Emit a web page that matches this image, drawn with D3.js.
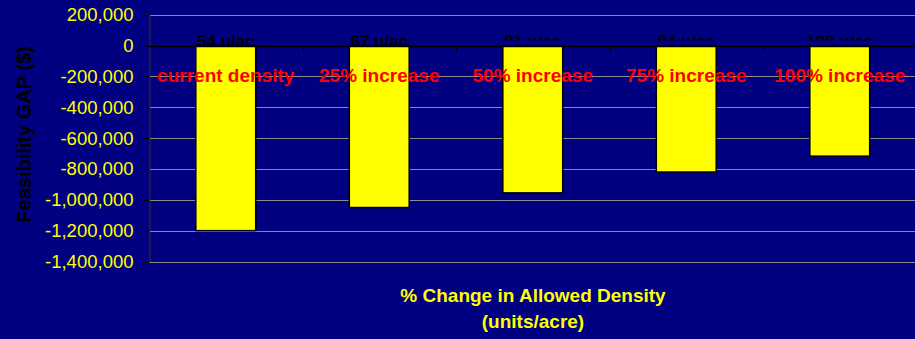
<!DOCTYPE html>
<html>
<head>
<meta charset="utf-8">
<script src="https://cdn.jsdelivr.net/npm/d3@7"></script>
<style>
  html, body { margin: 0; padding: 0; background: #000080; }
  svg { display: block; font-family: "Liberation Sans", Arial, sans-serif; }
</style>
</head>
<body>
<div id="chart"></div>
<script>
// chart data
var densities = ["54 u/ac", "67 u/ac", "81 u/ac", "94 u/ac", "108 u/ac"];
var changes = ["current density", "25% increase", "50% increase", "75% increase", "100% increase"];
var gaps = [-1200000, -1050000, -955000, -820000, -717000];
var yTicks = [200000, 0, -200000, -400000, -600000, -800000, -1000000, -1200000, -1400000];

var width = 915, height = 339;
var margin = { top: 14.7, right: -1.5, bottom: 77.5, left: 149 };

var svg = d3.select("#chart").append("svg")
    .attr("width", width)
    .attr("height", height);

svg.append("rect")
    .attr("width", width)
    .attr("height", height)
    .attr("fill", "#000080");

var x = d3.scaleBand()
    .domain(d3.range(densities.length))
    .range([margin.left, width - margin.right])
    .padding(0);

var y = d3.scaleLinear()
    .domain([-1400000, 200000])
    .range([height - margin.bottom, margin.top]);

var fmt = d3.formatLocale({ decimal: ".", thousands: ",", grouping: [3], currency: ["$", ""], minus: "-" }).format(",");

var barW = x.bandwidth() * 0.39;

// gridlines
svg.append("g")
    .selectAll("line")
    .data(yTicks.filter(d => d !== 0))
    .join("line")
    .attr("x1", margin.left)
    .attr("x2", width)
    .attr("y1", d => Math.round(y(d)) + 0.5)
    .attr("y2", d => Math.round(y(d)) + 0.5)
    .attr("stroke", "#8c8c8c")
    .attr("stroke-width", 1);

// y axis
var yAxis = svg.append("g")
    .attr("transform", "translate(" + (margin.left + 0.5) + ",0)")
    .call(d3.axisLeft(y).tickValues(yTicks).tickFormat(fmt).tickSize(6).tickPadding(10));
yAxis.select(".domain").attr("stroke", "#333");
yAxis.selectAll(".tick line").attr("stroke", "#000");
yAxis.selectAll(".tick text")
    .attr("fill", "#ffff00")
    .style("font-size", "18.5px")
    .style("font-family", "'Liberation Sans', Arial, sans-serif");

// bars
svg.append("g")
    .selectAll("rect")
    .data(gaps)
    .join("rect")
    .attr("x", (d, i) => x(i) + x.bandwidth() / 2 - barW / 2)
    .attr("y", y(0))
    .attr("width", barW)
    .attr("height", d => y(d) - y(0))
    .attr("fill", "#ffff00")
    .attr("stroke", "#000")
    .attr("stroke-width", 1.5);

// zero line and category ticks
svg.append("line")
    .attr("x1", margin.left)
    .attr("x2", width)
    .attr("y1", Math.round(y(0)) + 0.5)
    .attr("y2", Math.round(y(0)) + 0.5)
    .attr("stroke", "#000")
    .attr("stroke-width", 1.5);

svg.append("g")
    .selectAll("line")
    .data(d3.range(1, densities.length))
    .join("line")
    .attr("x1", i => Math.round(x(i)) + 0.5)
    .attr("x2", i => Math.round(x(i)) + 0.5)
    .attr("y1", y(0))
    .attr("y2", y(0) + 7)
    .attr("stroke", "#000");

// clip for the cut-off density labels
svg.append("clipPath")
    .attr("id", "labelClip")
    .append("rect")
    .attr("x", 0)
    .attr("y", 0)
    .attr("width", width)
    .attr("height", y(0) - 5);

// density labels
svg.append("g")
    .selectAll("text")
    .data(densities)
    .join("text")
    .attr("x", (d, i) => x(i) + x.bandwidth() / 2)
    .attr("y", y(0) + 1.5)
    .attr("text-anchor", "middle")
    .attr("clip-path", (d, i) => i >= 2 ? "url(#labelClip)" : null)
    .attr("fill", "#000")
    .style("font-size", "17px")
    .style("font-weight", "bold")
    .text(d => d);

// change labels
svg.append("g")
    .selectAll("text")
    .data(changes)
    .join("text")
    .attr("x", (d, i) => x(i) + x.bandwidth() / 2)
    .attr("y", 82)
    .attr("text-anchor", "middle")
    .attr("fill", "#ff0000")
    .style("font-size", "19px")
    .style("font-weight", "bold")
    .text(d => d);

// axis titles
svg.append("text")
    .attr("transform", "translate(31,134.5) rotate(-90)")
    .attr("text-anchor", "middle")
    .attr("fill", "#000")
    .style("font-size", "20px")
    .style("font-weight", "bold")
    .text("Feasibility GAP ($)");

var xTitle = svg.append("text")
    .attr("text-anchor", "middle")
    .attr("fill", "#ffff00")
    .style("font-size", "19px")
    .style("font-weight", "bold");
xTitle.append("tspan")
    .attr("x", 533)
    .attr("y", 302)
    .text("% Change in Allowed Density");
xTitle.append("tspan")
    .attr("x", 533)
    .attr("y", 328)
    .text("(units/acre)");
</script>
</body>
</html>
